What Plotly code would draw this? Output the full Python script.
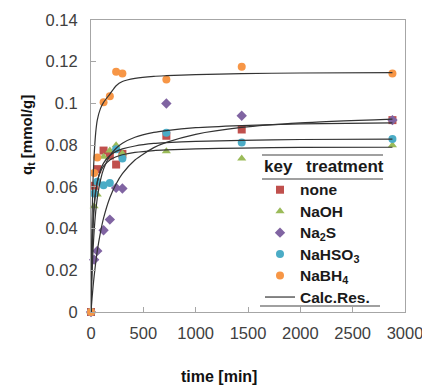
import plotly.graph_objects as go

# measured times [min]
t_obs = [0, 30, 60, 120, 180, 240, 300, 720, 1440, 2880]
q_none = [0, 0.0605, 0.0685, 0.0774, 0.0750, 0.0707, 0.0758, 0.0845, 0.0875, 0.0920]
q_naoh = [0, 0.0507, 0.0563, 0.0744, 0.0774, 0.0800, 0.0760, 0.0771, 0.0736, 0.0800]
q_na2s = [0, 0.0251, 0.0293, 0.0392, 0.0443, 0.0595, 0.0592, 0.1000, 0.0941, 0.0920]
q_nahso3 = [0, 0.0568, 0.0624, 0.0608, 0.0619, 0.0780, 0.0736, 0.0860, 0.0813, 0.0830]
q_nabh4 = [0, 0.0667, 0.0741, 0.1006, 0.1035, 0.1152, 0.1144, 0.1115, 0.1176, 0.1144]

# calculated (model) curves
t_calc = [0, 5, 10, 20, 30, 45, 60, 90, 120, 180, 240, 300, 420, 600, 720, 1000, 1440, 2000, 2880]
c_none = [0, 0.0100, 0.0180, 0.0301, 0.0388, 0.0481, 0.0546, 0.0631, 0.0685, 0.0749, 0.0785,
          0.0809, 0.0838, 0.0861, 0.0870, 0.0884, 0.0894, 0.0902, 0.0907]
c_naoh = [0, 0.0186, 0.0301, 0.0437, 0.0514, 0.0583, 0.0624, 0.0672, 0.0699, 0.0729, 0.0744,
          0.0754, 0.0765, 0.0774, 0.0777, 0.0782, 0.0786, 0.0789, 0.0790]
c_na2s = [0, 0.0034, 0.0065, 0.0122, 0.0172, 0.0237, 0.0293, 0.0381, 0.0450, 0.0548, 0.0614,
          0.0663, 0.0729, 0.0788, 0.0813, 0.0852, 0.0885, 0.0907, 0.0925]
c_nahso3 = [0, 0.0164, 0.0275, 0.0413, 0.0497, 0.0574, 0.0623, 0.0681, 0.0714, 0.0750, 0.0770,
            0.0782, 0.0796, 0.0808, 0.0812, 0.0818, 0.0823, 0.0827, 0.0829]
c_nabh4 = [0, 0.0280, 0.0450, 0.0640, 0.0750, 0.0860, 0.0920, 0.0975, 0.1005, 0.1045, 0.1085,
           0.1105, 0.1120, 0.1130, 0.1133, 0.1138, 0.1143, 0.1146, 0.1148]

names = ["none", "NaOH", "Na<sub>2</sub>S", "NaHSO<sub>3</sub>", "NaBH<sub>4</sub>"]
colors = ["#c0504d", "#9bbb59", "#8064a2", "#4bacc6", "#f79646"]
symbols = ["square", "triangle-up", "diamond", "circle", "circle"]
obs = [q_none, q_naoh, q_na2s, q_nahso3, q_nabh4]
curves = [c_none, c_naoh, c_na2s, c_nahso3, c_nabh4]

FONT = "Liberation Sans, Arial"

fig = go.Figure()
for name, q, col, sym in zip(names, obs, colors, symbols):
    fig.add_trace(go.Scatter(x=t_obs, y=q, mode="markers",
                             name=f'<span style="font-size:15.5px">{name}</span>',
                             cliponaxis=False,
                             marker=dict(color=col, symbol=sym, size=8)))
for i, c in enumerate(curves):
    fig.add_trace(go.Scatter(x=t_calc, y=c, mode="lines",
                             name='<span style="font-size:15.5px">Calc.Res.</span>',
                             line=dict(color="#333333", width=1.2, shape="spline", smoothing=0.6),
                             showlegend=(i == 0)))

# page has an 8px body margin; figure placed so plot area spans page x 91..405, y 20..312
OFF = 8
W, H = 422, 379
PL, PR, PT, PB = 91, 405, 20, 312
pw, ph = PR - PL, PB - PT
ml, mt = PL - OFF, PT - OFF
mr, mb = W - ml - pw, H - mt - ph


def px(x):
    return (x - PL) / pw


def py(y):
    return (PB - y) / ph


axis_common = dict(showgrid=False, zeroline=False, showline=True, linecolor="#a6a6a6",
                   linewidth=1, mirror=True, ticks="inside", ticklen=5, tickcolor="#a6a6a6",
                   tickfont=dict(family=FONT, size=16.5, color="#404040"))
fig.update_xaxes(range=[0, 3000], dtick=500, ticklabelstandoff=6, **axis_common)
fig.update_yaxes(range=[0, 0.14], dtick=0.02, ticklabelstandoff=9, **axis_common)

hdr_font = dict(family=FONT, size=17, color="#1a1a1a", weight="bold")

fig.update_layout(
    width=W, height=H, margin=dict(l=ml, r=mr, t=mt, b=mb, autoexpand=False),
    plot_bgcolor="white", paper_bgcolor="white",
    legend=dict(x=px(260), y=py(174), xanchor="left", yanchor="top",
                bgcolor="rgba(255,255,255,0)",
                font=dict(family=FONT, size=14.2, color="#1a1a1a", weight="bold")),
    annotations=[
        dict(text="key", x=px(262), y=py(166), xref="paper", yref="paper",
             xanchor="left", yanchor="middle", showarrow=False, font=hdr_font),
        dict(text="treatment", x=px(304), y=py(166), xref="paper", yref="paper",
             xanchor="left", yanchor="middle", showarrow=False, font=hdr_font),
        dict(text="<b>time [min]</b>", x=px(219), y=py(376), xref="paper", yref="paper",
             xanchor="center", yanchor="middle", showarrow=False,
             font=dict(family=FONT, size=16, color="#111")),
        dict(text="<b>q<sub>t</sub> [mmol/g]</b>", x=px(27), y=py(135), xref="paper", yref="paper",
             xanchor="center", yanchor="middle", showarrow=False, textangle=-90,
             font=dict(family=FONT, size=15, color="#111")),
    ],
    shapes=[
        dict(type="line", xref="paper", yref="paper", x0=px(262), x1=px(383), y0=py(155), y1=py(155),
             line=dict(color="#808080", width=1.5)),
        dict(type="line", xref="paper", yref="paper", x0=px(262), x1=px(383), y0=py(179), y1=py(179),
             line=dict(color="#808080", width=1.5)),
        dict(type="line", xref="paper", yref="paper", x0=px(260), x1=px(380), y0=py(306), y1=py(306),
             line=dict(color="#808080", width=1.5)),
    ],
)

fig.write_html("out.html")
